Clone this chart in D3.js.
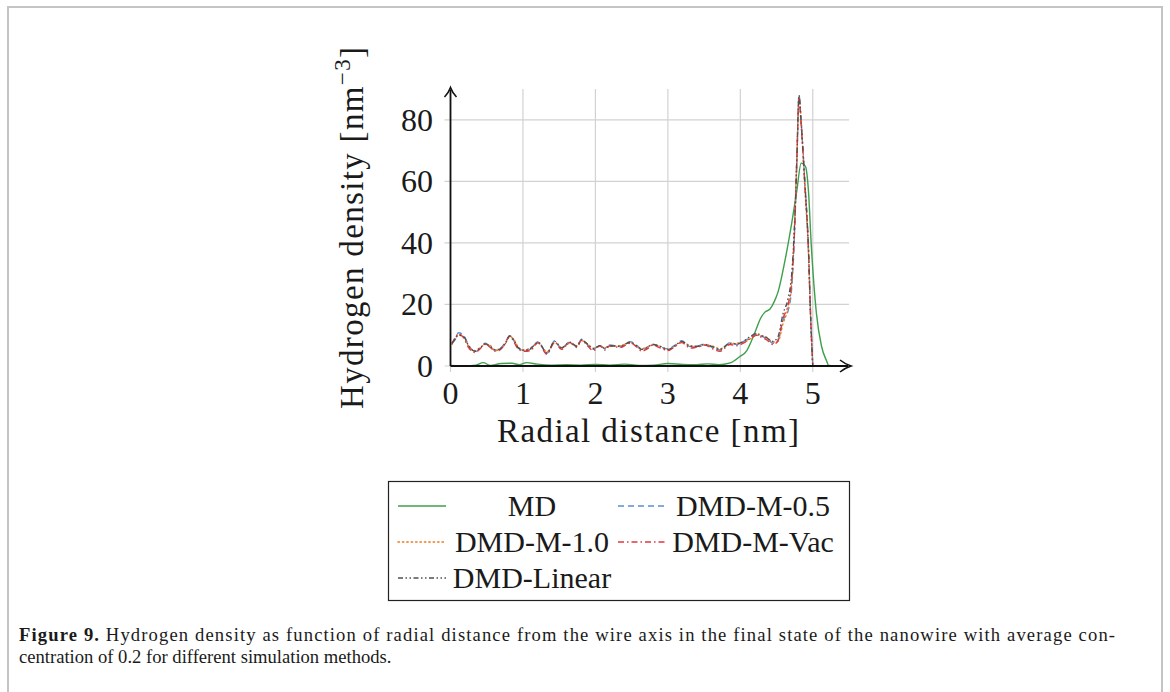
<!DOCTYPE html>
<meta charset="utf-8">
<script src="https://d3js.org/d3.v7.min.js"></script>
<style>
body { margin: 0; background: #fff; }
text { font-family: "Liberation Serif", serif; fill: #1a1a1a; }
.grid line { stroke: #d2d2d2; stroke-width: 1.2; }
.series { fill: none; stroke-width: 1.4; stroke-linejoin: round; }
</style>
<body>
<script>

// radial grid shared by the DMD runs [nm]
var radius = [
  0.02,0.06,0.11,0.18,0.25,0.34,0.41,0.48,
  0.55,0.61,0.68,0.75,0.82,0.88,0.94,1.02,
  1.10,1.21,1.33,1.44,1.53,1.65,1.74,1.81,
  1.89,1.97,2.06,2.13,2.20,2.34,2.48,2.59,
  2.64,2.72,2.79,2.90,3.00,3.10,3.19,3.31,
  3.41,3.51,3.62,3.72,3.86,3.95,4.04,4.15,
  4.22,4.30,4.36,4.45,4.52,4.59,4.66,4.71,
  4.75,4.78,4.81,4.84,4.89,4.94,4.97,5.00];

var dmdM05 = [
  7.5,8.4,10.8,10.0,6.8,4.6,5.8,7.4,
  6.2,5.2,5.6,7.4,10.0,8.0,5.7,5.0,
  5.4,7.9,4.1,8.2,5.7,7.9,6.3,8.7,
  7.0,5.4,6.8,5.6,6.8,6.3,7.9,6.3,
  5.2,6.0,7.1,6.2,5.6,6.8,8.2,6.3,
  6.5,7.1,6.0,5.2,7.6,7.0,7.9,9.5,
  10.4,9.6,9.0,7.4,8.5,14.9,18.0,25.7,
  44,66,88,79,60,38.7,17,0];

var dmdM10 = [
  7.0,8.8,10.2,9.4,6.4,5.0,6.0,7.0,
  6.6,5.0,5.4,7.0,9.6,8.4,6.0,5.2,
  5.8,7.4,4.6,7.6,6.0,7.4,6.6,8.2,
  7.2,5.8,6.4,6.0,6.4,6.6,7.6,6.0,
  5.6,6.3,6.8,6.4,5.2,6.4,7.8,6.6,
  6.2,6.8,6.4,5.6,7.2,7.4,7.6,9.0,
  10.0,9.8,9.4,7.8,8.0,13.8,19.0,27,
  46,68,87,80,58,37,16,0];

var dmdVac = [
  7.2,9.0,10.4,9.2,6.0,4.4,5.6,7.2,
  6.0,4.8,5.2,7.0,9.8,7.6,5.4,4.8,
  5.0,7.6,3.8,7.8,5.4,7.6,6.0,8.4,
  6.6,5.0,6.6,5.2,6.6,6.0,7.4,5.8,
  4.8,5.6,6.8,5.8,5.0,6.4,7.6,5.8,
  6.2,6.8,5.6,4.8,7.0,6.6,7.4,9.2,
  10.0,9.2,8.6,7.0,8.2,15.5,20,28,
  45,67,87,78,59,38,16,0];

var dmdLinear = [
  7.4,8.6,10.0,9.6,6.6,4.8,5.9,7.2,
  6.4,5.3,5.5,7.2,9.8,8.2,5.8,5.1,
  5.6,7.7,4.3,8.0,5.9,7.7,6.4,8.5,
  7.1,5.6,6.6,5.8,6.6,6.4,7.7,6.2,
  5.4,6.1,7.0,6.3,5.4,6.6,8.0,6.4,
  6.4,7.0,6.2,5.4,7.4,7.2,8.0,9.8,
  10.6,9.8,9.2,8.0,9.5,17,22,30,
  47,67,88,79,60,38,16,0];

// MD run has its own sampling
var mdRadius = [0.00,0.20,0.35,0.45,0.55,0.70,0.85,0.95,1.05,1.20,1.40,1.60,1.80,2.00,2.20,
  2.40,2.60,2.80,3.00,3.20,3.40,3.55,3.70,3.86,3.99,4.09,4.16,4.22,4.28,4.34,4.41,4.47,4.52,
  4.61,4.71,4.78,4.84,4.90,4.94,4.98,5.05,5.12,5.19,5.22,5.30];
var md = [0.2,0.1,0.3,1.1,0.2,0.8,0.9,0.4,1.1,0.6,0.3,0.4,0.3,0.5,0.3,
  0.6,0.2,0.3,0.8,0.5,0.4,0.7,0.4,1.0,3.0,5.0,8.5,12,15.5,17.5,18.5,21,24,
  33.5,46.5,57,65.9,64.8,57,39,17.2,6.5,1.7,0.2,0];

var xTicks = [0,1,2,3,4,5];
var yTicks = [0,20,40,60,80];
var legendNames = ["MD","DMD-M-0.5","DMD-M-1.0","DMD-M-Vac","DMD-Linear"];

var W = 1170, H = 692;
var svg = d3.select("body").append("svg").attr("width", W).attr("height", H);

// figure frame
svg.append("path").attr("d", "M8,720V7H1162V720")
  .attr("fill", "none").attr("stroke", "#c4c4c4").attr("stroke-width", 2);

var x = d3.scaleLinear().domain([0, 5.5]).range([450.5, 849]);
var y = d3.scaleLinear().domain([0, 90]).range([366, 89]);

// grid + tick stubs
var grid = svg.append("g").attr("class", "grid");
grid.selectAll(".vg").data(xTicks).enter().append("line")
  .attr("x1", d => x(d)).attr("x2", d => x(d)).attr("y1", y(90)).attr("y2", y(0) + 6);
grid.selectAll(".hg").data(yTicks).enter().append("line")
  .attr("x1", x(0) - 6).attr("x2", x(5.5)).attr("y1", d => y(d)).attr("y2", d => y(d));

svg.selectAll(".xt").data(xTicks).enter().append("text")
  .attr("x", d => x(d)).attr("y", 404).attr("text-anchor", "middle")
  .attr("font-size", 32).text(d => d);
svg.selectAll(".yt").data(yTicks).enter().append("text")
  .attr("x", 433).attr("y", d => y(d) + 11).attr("text-anchor", "end")
  .attr("font-size", 32).text(d => d);

// series
var styles = [
  {color: "#3e9f4a", dash: null},
  {color: "#5b8fd6", dash: "6,4"},
  {color: "#ec7a22", dash: "1.4,3"},
  {color: "#e0393e", dash: "6,3,1.5,3"},
  {color: "#505050", dash: "5,2.5,1.5,2.5,1.5,2.5"}
];
var seriesData = [
  d3.zip(mdRadius, md),
  d3.zip(radius, dmdM05),
  d3.zip(radius, dmdM10),
  d3.zip(radius, dmdVac),
  d3.zip(radius, dmdLinear)
];
var line = d3.line().x(d => x(d[0])).y(d => y(d[1])).curve(d3.curveMonotoneX);

seriesData.forEach(function(s, i) {
  svg.append("path").attr("class", "series").attr("d", line(s))
    .attr("stroke", styles[i].color)
    .attr("stroke-dasharray", styles[i].dash)
    .attr("stroke-linecap", i == 2 ? "round" : "butt");
});

// axes with arrow heads
svg.append("line").attr("x1", x(0)).attr("x2", 848).attr("y1", y(0)).attr("y2", y(0))
  .attr("stroke", "#111").attr("stroke-width", 1.8);
svg.append("line").attr("x1", x(0)).attr("x2", x(0)).attr("y1", y(0)).attr("y2", 90)
  .attr("stroke", "#111").attr("stroke-width", 1.8);
svg.append("path").attr("d", "M840,360 Q845,364 851,366 Q845,368 840,372")
  .attr("fill", "none").attr("stroke", "#111").attr("stroke-width", 1.6);
svg.append("path").attr("d", "M444.5,97 Q448.5,93 450.5,87.5 Q452.5,93 456.5,97")
  .attr("fill", "none").attr("stroke", "#111").attr("stroke-width", 1.6);

// axis labels
svg.append("text").attr("x", 648).attr("y", 442).attr("text-anchor", "middle")
  .attr("font-size", 33).attr("textLength", 302).attr("lengthAdjust", "spacing")
  .text("Radial distance [nm]");
var yl = svg.append("text").attr("transform", "translate(363,228) rotate(-90)")
  .attr("text-anchor", "middle").attr("font-size", 33)
  .attr("textLength", 362).attr("lengthAdjust", "spacing");
yl.append("tspan").text("Hydrogen density [nm");
yl.append("tspan").attr("dy", -13).attr("font-size", 23).text("\u22123");
yl.append("tspan").attr("dy", 13).text("]");

// legend
svg.append("rect").attr("x", 388.5).attr("y", 481.5).attr("width", 461).attr("height", 119)
  .attr("fill", "#fff").attr("stroke", "#222").attr("stroke-width", 1.2);
var cells = [
  {sx: 398, tx: 532, y: 506},
  {sx: 618, tx: 753, y: 506},
  {sx: 398, tx: 532, y: 542},
  {sx: 618, tx: 753, y: 542},
  {sx: 398, tx: 532, y: 578}
];
legendNames.forEach(function(name, i) {
  var c = cells[i];
  svg.append("line").attr("x1", c.sx).attr("x2", c.sx + 48).attr("y1", c.y).attr("y2", c.y)
    .attr("stroke", styles[i].color).attr("stroke-width", 1.5)
    .attr("stroke-dasharray", styles[i].dash)
    .attr("stroke-linecap", i == 2 ? "round" : "butt");
  svg.append("text").attr("x", c.tx).attr("y", c.y + 10).attr("text-anchor", "middle")
    .attr("font-size", 30).text(name);
});

// caption
var cap1 = svg.append("text").attr("x", 19).attr("y", 641)
  .style("font-family", "'Liberation Serif', serif").attr("font-size", 18.6)
  .attr("textLength", 1096).attr("lengthAdjust", "spacing");
cap1.append("tspan").attr("font-weight", "bold").text("Figure 9.");
cap1.append("tspan").text(" Hydrogen density as function of radial distance from the wire axis in the final state of the nanowire with average con-");
svg.append("text").attr("x", 19).attr("y", 663)
  .style("font-family", "'Liberation Serif', serif").attr("font-size", 18.6)
  .text("centration of 0.2 for different simulation methods.");

</script>
</body>
